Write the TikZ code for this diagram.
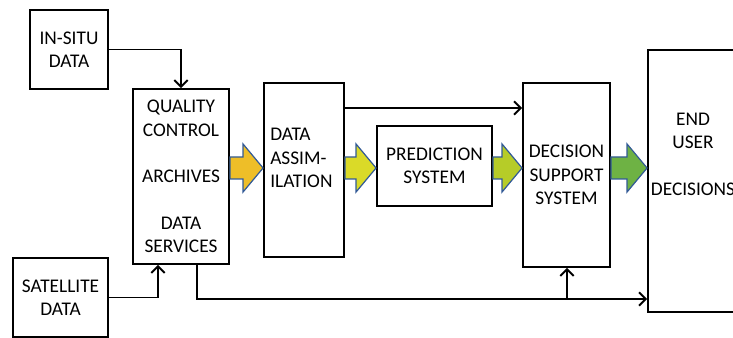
\documentclass[tikz,border=0pt]{standalone}
\usepackage{fontspec}
\setmainfont{Carlito}
\usetikzlibrary{arrows.meta, calc}
\definecolor{arrowedge}{RGB}{50,90,150}
\definecolor{qcgold}{RGB}{238,190,40}
\definecolor{dayellow}{RGB}{218,218,40}
\definecolor{predlime}{RGB}{182,204,40}
\definecolor{dssgreen}{RGB}{110,178,68}

\begin{document}
\begin{tikzpicture}[
    x=0.75pt, y=-0.75pt,
    box/.style={rectangle, draw=black, line width=1.4pt, fill=white,
                align=center, inner sep=0pt,
                font=\fontsize{14.5}{17.5}\selectfont},
    txt/.style={align=center, inner sep=0pt,
                font=\fontsize{14.5}{17.5}\selectfont},
    arr/.style={-{Straight Barb[length=5pt,width=10pt]}, line width=1.4pt},
    fatarr/.style={draw=arrowedge, line width=0.9pt, line join=miter}
]
\newcommand{\fatarrow}[4]{%
  \draw[fatarr, fill=#4] let \p1=(#1.east |- 0,#3), \p2=(#2.west |- 0,#3) in
    (\x1,\y1+8.25pt) -- (\x2-15pt,\y1+8.25pt) -- (\x2-15pt,\y1+18pt) --
    (\x2,\y1) -- (\x2-15pt,\y1-18pt) -- (\x2-15pt,\y1-8.25pt) --
    (\x1,\y1-8.25pt) -- cycle;}

\clip (0,0) rectangle (733,338);

%% -- sources --
\node[box, minimum width=78*0.75pt, minimum height=79*0.75pt] (insitu) at (69,49.5) {IN-SITU\\DATA};
\node[box, minimum width=95*0.75pt, minimum height=79*0.75pt] (sat) at (60.5,297.5) {SATELLITE\\DATA};

%% -- main chain --
\node[box, minimum width=96*0.75pt, minimum height=175*0.75pt] (qc) at (181,176.5)
  {QUALITY\\CONTROL\\[17.5pt]ARCHIVES\\[17.5pt]DATA\\SERVICES};
\node[box, minimum width=80*0.75pt, minimum height=174*0.75pt] (da) at (304,170) {};
\node[txt, align=left, anchor=west] (datxt) at (270,158) {DATA\\ASSIM-\\ILATION};
\node[box, minimum width=115*0.75pt, minimum height=80*0.75pt] (pred) at (434.5,166) {PREDICTION\\SYSTEM};
\node[box, minimum width=87*0.75pt, minimum height=184*0.75pt] (dss) at (566.5,175) {DECISION\\SUPPORT\\SYSTEM};
\node[box, minimum width=90*0.75pt, minimum height=262*0.75pt] (end) at (693,181) {};
\node[txt] (endtxt) at (693,154) {END\\USER\\[17.5pt]DECISIONS};

%% -- wide arrows --
\fatarrow{qc}{da}{168}{qcgold}
\fatarrow{da}{pred}{168}{dayellow}
\fatarrow{pred}{dss}{168}{predlime}
\fatarrow{dss}{end}{168}{dssgreen}

%% -- thin arrows --
\coordinate (bus) at (567,299);
\draw[arr] (insitu.east) -| (qc.north);
\draw[arr] (sat.east) -| (158,0 |- qc.south);
\draw[arr] (da.east |- 0,108) -- (dss.west |- 0,108);
\draw[arr] (197,0 |- qc.south) |- (end.west |- bus);
\draw[arr] (bus) -- (bus |- dss.south);

\end{tikzpicture}
\end{document}
